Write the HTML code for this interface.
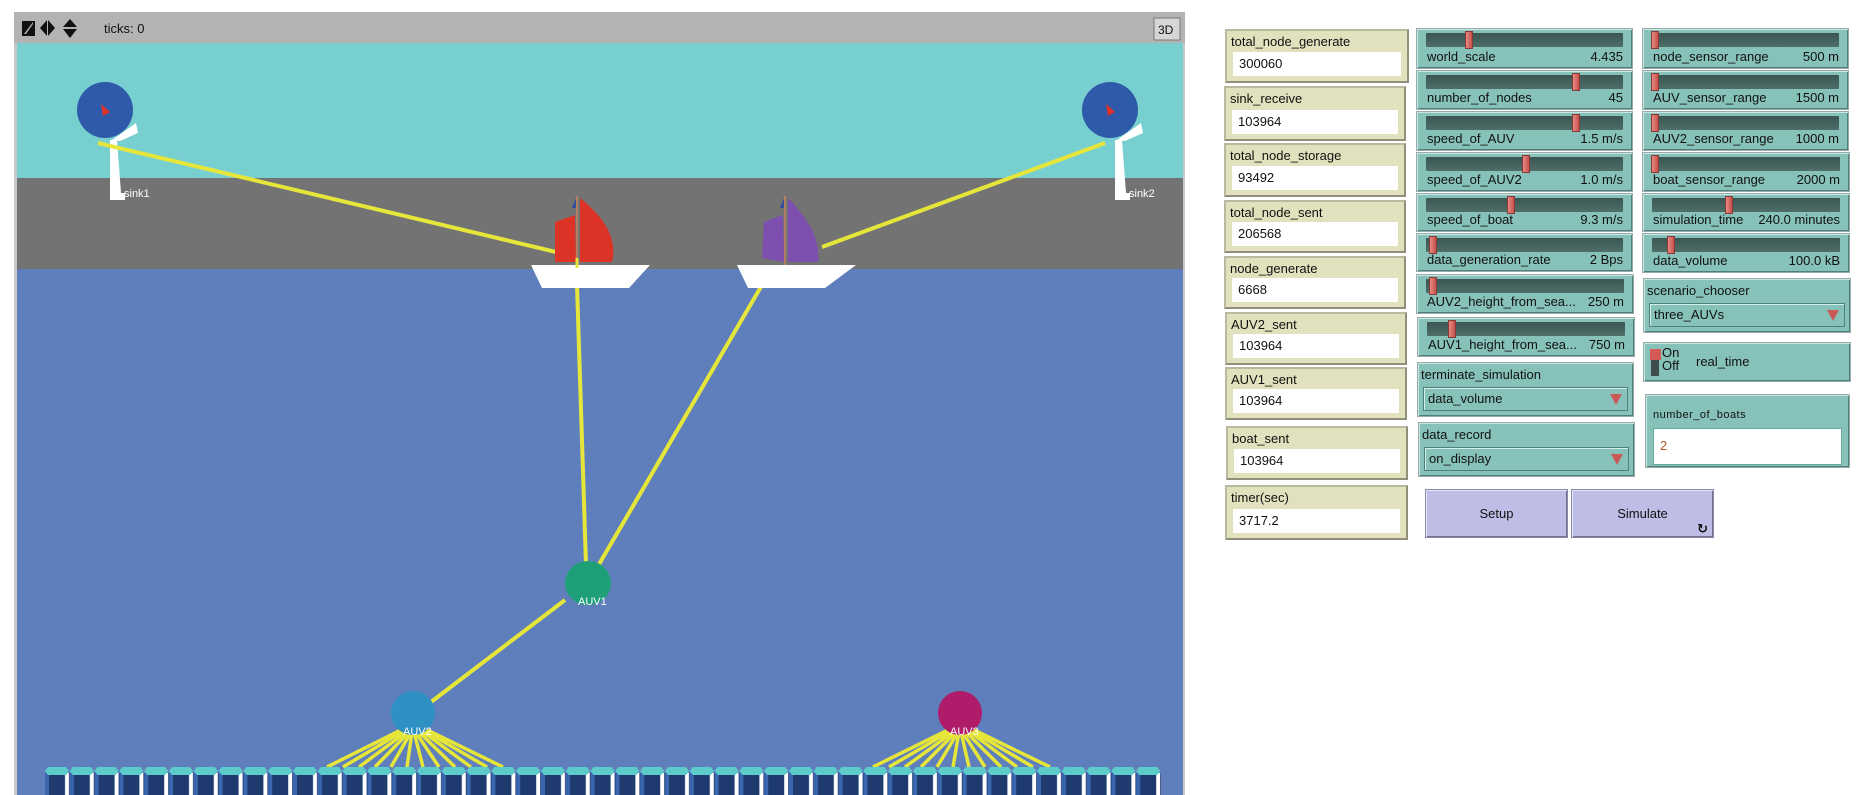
<!DOCTYPE html>
<html><head><meta charset="utf-8"><style>
body{margin:0;width:1873px;height:795px;background:#fff;position:relative;overflow:hidden;font-family:"Liberation Sans","DejaVu Sans",sans-serif;}
.w{position:absolute;box-sizing:border-box;}
.mon{background:#e2e1be;border:2px solid #b9b9a0;border-right-color:#8f8f7a;border-bottom-color:#8f8f7a;font-size:13px;color:#111;}
.mon .l{position:absolute;left:4px;top:3px;}
.mon .v{position:absolute;left:6px;right:6px;bottom:5px;height:24px;background:#fff;line-height:24px;padding-left:6px;font-size:13px;}
.sl{background:#86c2ba;border:1px solid #9aa;box-shadow:inset 1px 1px 0 #c8e6e2,inset -1px -1px 0 #4f7f79;font-size:13px;color:#111;}
.sl .t{position:absolute;left:9px;right:9px;top:4px;height:14px;background:linear-gradient(#3b5652,#4e6e69);border-radius:1px;}
.sl .th{position:absolute;top:2px;width:8px;height:18px;background:linear-gradient(90deg,#e48a84,#c8504a);border:1px solid #8a3a36;box-sizing:border-box;}
.sl .l{position:absolute;left:10px;bottom:4px;}
.sl .r{position:absolute;right:9px;bottom:4px;}
.ch{background:#86c2ba;border:1px solid #9aa;box-shadow:inset 1px 1px 0 #c8e6e2,inset -1px -1px 0 #4f7f79;font-size:13px;color:#111;}
.ch .l{position:absolute;left:3px;top:4px;}
.ch .b{position:absolute;left:5px;right:5px;bottom:5px;height:24px;background:#86c2ba;border:1px solid #4f7f79;box-shadow:inset 1px 1px 0 #d4eeea;line-height:22px;padding-left:4px;box-sizing:border-box;}
.ch .b:after{content:"";position:absolute;right:5px;top:6px;border-left:6px solid transparent;border-right:6px solid transparent;border-top:11px solid #c95a58;}
.btn{background:#bdbde6;border:1px solid #8888a8;box-shadow:inset 1px 1px 0 #e4e4f6,inset -1px -1px 0 #70708e;font-size:13px;text-align:center;line-height:48px;color:#111;}
</style></head><body>

<svg class="w" style="left:0;top:0" width="1200" height="795" viewBox="0 0 1200 795">
<defs>
<pattern id="nd" x="45" y="767" width="24.8" height="30" patternUnits="userSpaceOnUse">
<rect x="0" y="6" width="24.8" height="24" fill="#1f3a6e"/>
<rect x="0" y="6" width="4" height="24" fill="#3a66b0"/>
<rect x="20" y="6" width="4" height="24" fill="#ffffff"/>
<polygon points="3,0 21,0 24,4 21,8 3,8 0,4" fill="#5ecbcb"/>
</pattern>
</defs>
<rect x="14" y="12" width="1171" height="790" fill="#c8c8c8"/>
<rect x="14" y="12" width="1171" height="31" fill="#b3b3b3"/>
<rect x="17" y="43" width="1166" height="136" fill="#77cfcf"/>
<rect x="17" y="178" width="1166" height="92" fill="#737373"/>
<rect x="17" y="269" width="1166" height="526" fill="#5f7fbc"/>
<!-- title bar icons -->
<polygon points="22,21 35,21 35,36 22,36" fill="#111"/><polygon points="24,34 33,22 33,24 26,34" fill="#b3b3b3"/>
<polygon points="40,28 47,20 47,36" fill="#111"/><polygon points="55,28 48,20 48,36" fill="#111"/>
<polygon points="70,19 63,27 77,27" fill="#111"/><polygon points="70,38 63,29 77,29" fill="#111"/>
<text x="104" y="33" font-size="13" fill="#111" font-family="Liberation Sans">ticks: 0</text>
<rect x="1154" y="18" width="26" height="22" fill="#d6d6d6" stroke="#777"/>
<text x="1158" y="34" font-size="12" fill="#111" font-family="Liberation Sans">3D</text>
<!-- sinks -->
<g id="sk">
<polygon points="110,140 117,140 121,193 125,193 125,200 110,200" fill="#fff"/>
<polygon points="112,140 136,123 138,133 120,141" fill="#fff"/>
<circle cx="105" cy="110" r="28" fill="#2f5aaa"/>
<polygon points="101,104 110,112 103,116" fill="#e0302a"/>
</g>
<use href="#sk" x="1005"/>
<text x="124" y="197" font-size="11" fill="#fff" font-family="Liberation Sans">sink1</text>
<text x="1129" y="197" font-size="11" fill="#fff" font-family="Liberation Sans">sink2</text>
<!-- lines -->
<g stroke="#e6e63a" stroke-width="4" fill="none">
<line x1="98" y1="143" x2="577" y2="257"/>
<line x1="1105" y1="143" x2="822" y2="247"/>
<line x1="577" y1="285" x2="586" y2="565"/>
<line x1="762" y1="285" x2="598" y2="566"/>
<line x1="565" y1="600" x2="431" y2="702"/>
</g>
<g stroke="#e6e63a" stroke-width="3.5">
<line x1="405" y1="728" x2="327" y2="767"/><line x1="407" y1="729" x2="343" y2="767"/><line x1="409" y1="730" x2="359" y2="767"/><line x1="410" y1="731" x2="375" y2="767"/><line x1="411" y1="732" x2="391" y2="767"/><line x1="412" y1="732" x2="407" y2="767"/><line x1="414" y1="732" x2="423" y2="767"/><line x1="415" y1="731" x2="439" y2="767"/><line x1="417" y1="730" x2="455" y2="767"/><line x1="419" y1="729" x2="471" y2="767"/><line x1="420" y1="728" x2="487" y2="767"/><line x1="421" y1="727" x2="503" y2="767"/>
<line x1="952" y1="728" x2="873" y2="767"/><line x1="954" y1="729" x2="889" y2="767"/><line x1="956" y1="730" x2="905" y2="767"/><line x1="957" y1="731" x2="921" y2="767"/><line x1="958" y1="732" x2="937" y2="767"/><line x1="959" y1="732" x2="953" y2="767"/><line x1="961" y1="732" x2="969" y2="767"/><line x1="962" y1="731" x2="985" y2="767"/><line x1="964" y1="730" x2="1001" y2="767"/><line x1="966" y1="729" x2="1017" y2="767"/><line x1="967" y1="728" x2="1033" y2="767"/><line x1="968" y1="727" x2="1050" y2="767"/>
</g>
<!-- boats -->
<polygon points="531,265 650,265 629,288 542,288" fill="#fff"/>
<polygon points="737,265 856,265 825,288 748,288" fill="#fff"/>
<path d="M580,198 Q620,230 612,262 L580,262 Z" fill="#dd3327"/>
<path d="M575,215 L555,222 L555,262 L576,262 Z" fill="#dd3327"/>
<line x1="577" y1="196" x2="577" y2="265" stroke="#b08060" stroke-width="2"/>
<polygon points="572,208 576,198 576,208" fill="#3050a0"/>
<path d="M788,198 Q822,232 818,262 L788,262 Z" fill="#7d4fae"/>
<path d="M783,215 L764,222 L762,258 L784,262 Z" fill="#7d4fae"/>
<line x1="785" y1="196" x2="785" y2="265" stroke="#b08060" stroke-width="2"/>
<polygon points="780,208 784,198 784,208" fill="#3050a0"/>
<line x1="577" y1="258" x2="577" y2="268" stroke="#e6e63a" stroke-width="3"/>
<!-- AUVs -->
<ellipse cx="588" cy="583" rx="23" ry="22" fill="#1e9f78"/>
<text x="578" y="605" font-size="11" fill="#fff" font-family="Liberation Sans">AUV1</text>
<ellipse cx="413" cy="713" rx="22" ry="22" fill="#2f90c4"/>
<text x="403" y="735" font-size="11" fill="#fff" font-family="Liberation Sans">AUV2</text>
<ellipse cx="960" cy="713" rx="22" ry="22" fill="#af1c6a"/>
<text x="950" y="735" font-size="11" fill="#fff" font-family="Liberation Sans">AUV3</text>
<!-- nodes -->
<rect x="45" y="767" width="1116" height="28" fill="url(#nd)"/>
</svg>

<!-- monitors -->
<div class="w mon" style="left:1225px;top:29px;width:184px;height:54px"><span class="l">total_node_generate</span><div class="v">300060</div></div>
<div class="w mon" style="left:1224px;top:86px;width:182px;height:55px"><span class="l">sink_receive</span><div class="v">103964</div></div>
<div class="w mon" style="left:1224px;top:143px;width:182px;height:54px"><span class="l">total_node_storage</span><div class="v">93492</div></div>
<div class="w mon" style="left:1224px;top:200px;width:182px;height:53px"><span class="l">total_node_sent</span><div class="v">206568</div></div>
<div class="w mon" style="left:1224px;top:256px;width:182px;height:53px"><span class="l">node_generate</span><div class="v">6668</div></div>
<div class="w mon" style="left:1225px;top:312px;width:182px;height:53px"><span class="l">AUV2_sent</span><div class="v">103964</div></div>
<div class="w mon" style="left:1225px;top:367px;width:182px;height:53px"><span class="l">AUV1_sent</span><div class="v">103964</div></div>
<div class="w mon" style="left:1226px;top:426px;width:182px;height:54px"><span class="l">boat_sent</span><div class="v">103964</div></div>
<div class="w mon" style="left:1225px;top:485px;width:183px;height:55px"><span class="l">timer(sec)</span><div class="v">3717.2</div></div>

<!-- sliders col 2 -->
<div class="w sl" style="left:1416px;top:28px;width:217px;height:41px"><div class="t"></div><div class="th" style="left:48px"></div><span class="l">world_scale</span><span class="r">4.435</span></div>
<div class="w sl" style="left:1416px;top:70px;width:217px;height:40px"><div class="t"></div><div class="th" style="left:155px"></div><span class="l">number_of_nodes</span><span class="r">45</span></div>
<div class="w sl" style="left:1416px;top:111px;width:217px;height:40px"><div class="t"></div><div class="th" style="left:155px"></div><span class="l">speed_of_AUV</span><span class="r">1.5 m/s</span></div>
<div class="w sl" style="left:1416px;top:152px;width:217px;height:40px"><div class="t"></div><div class="th" style="left:105px"></div><span class="l">speed_of_AUV2</span><span class="r">1.0 m/s</span></div>
<div class="w sl" style="left:1416px;top:193px;width:217px;height:39px"><div class="t"></div><div class="th" style="left:90px"></div><span class="l">speed_of_boat</span><span class="r">9.3 m/s</span></div>
<div class="w sl" style="left:1416px;top:233px;width:217px;height:39px"><div class="t"></div><div class="th" style="left:12px"></div><span class="l">data_generation_rate</span><span class="r">2 Bps</span></div>
<div class="w sl" style="left:1416px;top:274px;width:218px;height:40px"><div class="t"></div><div class="th" style="left:12px"></div><span class="l">AUV2_height_from_sea...</span><span class="r">250 m</span></div>
<div class="w sl" style="left:1417px;top:317px;width:218px;height:40px"><div class="t"></div><div class="th" style="left:30px"></div><span class="l">AUV1_height_from_sea...</span><span class="r">750 m</span></div>
<div class="w ch" style="left:1417px;top:362px;width:217px;height:55px"><span class="l">terminate_simulation</span><div class="b">data_volume</div></div>
<div class="w ch" style="left:1418px;top:422px;width:217px;height:55px"><span class="l">data_record</span><div class="b">on_display</div></div>
<div class="w btn" style="left:1425px;top:489px;width:143px;height:49px">Setup</div>
<div class="w btn" style="left:1571px;top:489px;width:143px;height:49px">Simulate<span style="position:absolute;right:5px;bottom:-16px;font-size:13px;font-weight:bold">&#8635;</span></div>

<!-- col 3 -->
<div class="w sl" style="left:1642px;top:28px;width:207px;height:41px"><div class="t"></div><div class="th" style="left:8px"></div><span class="l">node_sensor_range</span><span class="r">500 m</span></div>
<div class="w sl" style="left:1642px;top:70px;width:207px;height:40px"><div class="t"></div><div class="th" style="left:8px"></div><span class="l">AUV_sensor_range</span><span class="r">1500 m</span></div>
<div class="w sl" style="left:1642px;top:111px;width:207px;height:40px"><div class="t"></div><div class="th" style="left:8px"></div><span class="l">AUV2_sensor_range</span><span class="r">1000 m</span></div>
<div class="w sl" style="left:1642px;top:152px;width:208px;height:40px"><div class="t"></div><div class="th" style="left:8px"></div><span class="l">boat_sensor_range</span><span class="r">2000 m</span></div>
<div class="w sl" style="left:1642px;top:193px;width:208px;height:39px"><div class="t"></div><div class="th" style="left:82px"></div><span class="l">simulation_time</span><span class="r">240.0 minutes</span></div>
<div class="w sl" style="left:1642px;top:233px;width:208px;height:40px"><div class="t"></div><div class="th" style="left:24px"></div><span class="l">data_volume</span><span class="r">100.0 kB</span></div>
<div class="w ch" style="left:1643px;top:278px;width:208px;height:55px"><span class="l">scenario_chooser</span><div class="b">three_AUVs</div></div>
<div class="w sl" style="left:1643px;top:342px;width:208px;height:40px"><div style="position:absolute;left:7px;top:7px;width:8px;height:26px;background:#3d4d4b"></div><div style="position:absolute;left:6px;top:6px;width:11px;height:11px;background:#d55a55"></div><span style="position:absolute;left:18px;top:3px;line-height:13px;font-size:13px">On<br>Off</span><span style="position:absolute;left:52px;top:11px">real_time</span></div>
<div class="w sl" style="left:1645px;top:394px;width:205px;height:74px"><span style="position:absolute;left:7px;top:14px;font-size:11px;letter-spacing:0.5px">number_of_boats</span><div style="position:absolute;left:7px;right:7px;top:33px;height:35px;background:#fff;border:1px solid #6a9"><span style="position:absolute;left:6px;top:9px;color:#b05a2a;font-size:13px">2</span></div></div>
</body></html>
